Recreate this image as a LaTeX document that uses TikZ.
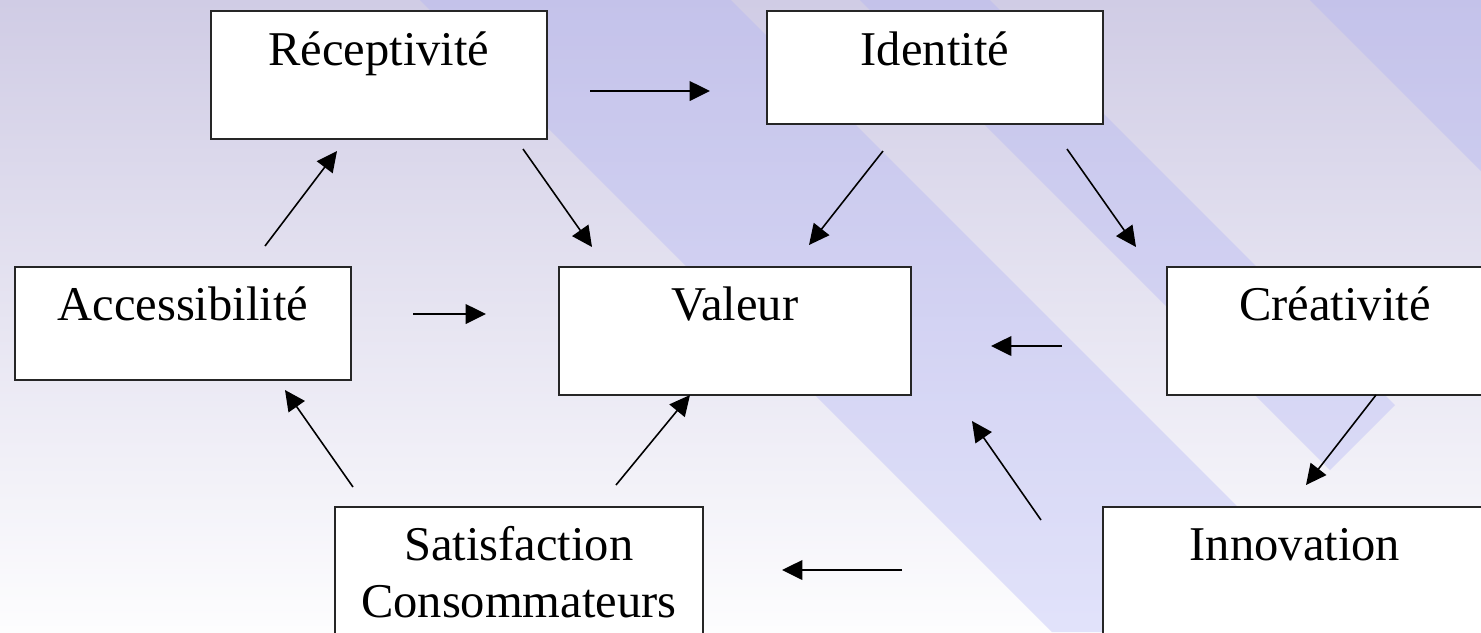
\documentclass[tikz,border=0pt]{standalone}
\usepackage{fontspec}
\setmainfont{Liberation Serif}
\usetikzlibrary{arrows.meta}

\definecolor{bgtop}{RGB}{208,204,229}
\definecolor{bgmid}{RGB}{228,226,241}
\definecolor{bgbot}{RGB}{253,253,254}
\definecolor{hatch}{RGB}{175,178,245}

\begin{document}
\begin{tikzpicture}[x=0.01cm, y=-0.01cm,
  box/.style={rectangle, draw=black!85, fill=white, line width=0.45pt,
      anchor=north west, inner xsep=0pt, inner ysep=0pt, align=center,
      font=\fontsize{13.8}{16.2}\selectfont},
  arr/.style={-{Triangle[length=5.8pt, width=5.6pt]}, line width=0.45pt}]

% background
\useasboundingbox (0,0) rectangle (1481,632);
\shade[top color=bgtop, middle color=bgmid, bottom color=bgbot] (0,0) rectangle (1481,632);
\begin{scope}
\clip (0,0) rectangle (1481,632);
\fill[hatch, opacity=0.35] (420,0) -- (731,0) -- (1363,632) -- (1052,632) -- cycle;
\fill[hatch, opacity=0.35] (860,0) -- (990,0) -- (1395,405) -- (1330,470) -- cycle;
\fill[hatch, opacity=0.35] (1310,0) -- (1481,0) -- (1481,171) -- cycle;
\end{scope}

% boxes
\node[box, minimum width=3.36cm, text height=0.55cm, text depth=0.73cm] (rec) at (210,10) {Réceptivité};
\node[box, minimum width=3.36cm, text height=0.55cm, text depth=0.58cm] (ide) at (766,10) {Identité};
\node[box, minimum width=3.36cm, text height=0.54cm, text depth=0.59cm] (acc) at (14,266) {Accessibilité};
\node[box, minimum width=3.52cm, text height=0.54cm, text depth=0.74cm] (val) at (558,266) {Valeur};
\node[box, minimum width=3.36cm, text height=0.54cm, text depth=0.74cm] (cre) at (1166,266) {Créativité};
\node[box, text width=3.68cm, text height=0.54cm, text depth=1.5cm] (sat) at (334,506) {Satisfaction\\Consommateurs};
\node[box, minimum width=3.84cm, text height=0.54cm, text depth=1.5cm] (inn) at (1102,506) {Innovation};

% arrow ends
\coordinate (ri1) at (590,91);   \coordinate (ri2) at (710,91);
\coordinate (ar1) at (265,246);  \coordinate (ar2) at (337,151);
\coordinate (rv1) at (523,149);  \coordinate (rv2) at (592,247);
\coordinate (iv1) at (883,151);  \coordinate (iv2) at (809,245);
\coordinate (ic1) at (1067,149); \coordinate (ic2) at (1136,247);
\coordinate (av1) at (413,314);  \coordinate (av2) at (486,314);
\coordinate (cv1) at (1062,346); \coordinate (cv2) at (991,346);
\coordinate (cn1) at (1376,395); \coordinate (cn2) at (1306,485);
\coordinate (nv1) at (1041,520); \coordinate (nv2) at (972,421);
\coordinate (ns1) at (902,570);  \coordinate (ns2) at (782,570);
\coordinate (sa1) at (353,487);  \coordinate (sa2) at (285,390);
\coordinate (sv1) at (616,485);  \coordinate (sv2) at (690,395);

% arrows
\draw[arr] (ri1) -- (ri2);
\draw[arr] (ar1) -- (ar2);
\draw[arr] (rv1) -- (rv2);
\draw[arr] (iv1) -- (iv2);
\draw[arr] (ic1) -- (ic2);
\draw[arr] (av1) -- (av2);
\draw[arr] (cv1) -- (cv2);
\draw[arr] (cn1) -- (cn2);
\draw[arr] (nv1) -- (nv2);
\draw[arr] (ns1) -- (ns2);
\draw[arr] (sa1) -- (sa2);
\draw[arr] (sv1) -- (sv2);
\end{tikzpicture}
\end{document}
